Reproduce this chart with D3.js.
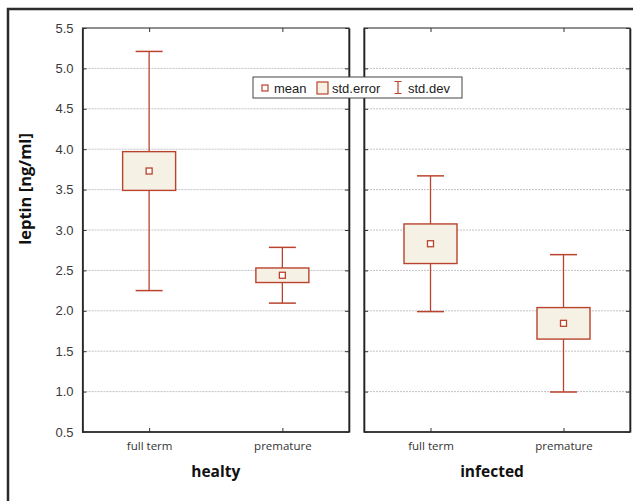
<!DOCTYPE html>
<html>
<head>
<meta charset="utf-8">
<script src="https://cdn.jsdelivr.net/npm/d3@7"></script>
<style>
  body { margin: 0; background: #fff; }
  svg { display: block; }
</style>
</head>
<body>
<div id="content"></div>
<script>
// data
let groups = ['healty', 'infected'];
let categories = ['full term', 'premature'];
let means = [[3.73, 2.44], [2.83, 1.845]];
let stdErrors = [[0.24, 0.09], [0.245, 0.195]];
let stdDevs = [[1.48, 0.345], [0.84, 0.85]];
let yTicks = [0.5, 1.0, 1.5, 2.0, 2.5, 3.0, 3.5, 4.0, 4.5, 5.0, 5.5];
let legendItems = ['mean', 'std.error', 'std.dev'];

let width = 633;
let height = 501;
let plotTop = 28, plotBottom = 432;
let panels = [[82.5, 349], [364, 630]];
let red = '#b9432c';
let fill = '#f6f1e5';

let svg = d3.select('#content').append('svg').attr('width', width).attr('height', height);

// outer frame (cropped on right and bottom)
svg.append('path').attr('d', 'M8,520 L8,9 L640,9')
  .attr('fill', 'none').attr('stroke', '#2b2b2b').attr('stroke-width', 2.5);

let yScale = d3.scaleLinear().domain([0.5, 5.5]).range([plotBottom, plotTop]);

groups.forEach((g, gi) => {
  let [x0, x1] = panels[gi];
  let xScale = d3.scalePoint().domain(categories).range([x0, x1]).padding(0.5);
  let panel = svg.append('g');

  // grid
  panel.selectAll('line.grid').data(yTicks.slice(1, -1)).enter().append('line')
    .attr('x1', x0).attr('x2', x1)
    .attr('y1', d => yScale(d)).attr('y2', d => yScale(d))
    .attr('stroke', '#c2c2cc').attr('stroke-width', 1).attr('stroke-dasharray', '2,1');

  // frame
  panel.append('rect').attr('x', x0).attr('y', plotTop).attr('width', x1 - x0).attr('height', plotBottom - plotTop)
    .attr('fill', 'none').attr('stroke', '#444').attr('stroke-width', 1.2);
  panel.append('line').attr('x1', x0).attr('x2', x1).attr('y1', plotBottom).attr('y2', plotBottom)
    .attr('stroke', '#222').attr('stroke-width', 1.6);

  // inward ticks on both sides
  let leftAxis = d3.axisLeft(yScale).tickValues(yTicks).tickSize(-4).tickSizeOuter(0)
    .tickPadding(9).tickFormat(d3.format('.1f'));
  let la = panel.append('g').attr('transform', `translate(${x0},0)`).call(leftAxis);
  la.select('.domain').attr('stroke', '#222').attr('stroke-width', 1.6);
  la.selectAll('.tick line').attr('stroke', '#333');
  if (gi === 0) {
    la.selectAll('.tick text').attr('font-family', 'Liberation Sans, Arial, sans-serif')
      .attr('font-size', 13).attr('fill', '#3a3a3a');
  } else {
    la.selectAll('.tick text').remove();
  }
  let ra = panel.append('g').attr('transform', `translate(${x1},0)`)
    .call(d3.axisRight(yScale).tickValues(yTicks).tickSize(-4).tickSizeOuter(0).tickFormat(''));
  ra.select('.domain').attr('stroke', '#222').attr('stroke-width', 1.6);
  ra.selectAll('.tick line').attr('stroke', '#333');

  // category ticks top and bottom
  panel.append('g').attr('transform', `translate(0,${plotTop})`)
    .call(d3.axisTop(xScale).tickSize(-4).tickSizeOuter(0).tickFormat(''))
    .call(a => a.select('.domain').remove())
    .selectAll('.tick line').attr('stroke', '#333');
  let ba = panel.append('g').attr('transform', `translate(0,${plotBottom})`)
    .call(d3.axisBottom(xScale).tickSize(-4).tickSizeOuter(0).tickPadding(10));
  ba.select('.domain').remove();
  ba.selectAll('.tick line').attr('stroke', '#333');
  ba.selectAll('.tick text').attr('font-family', 'Open Sans, sans-serif')
    .attr('font-size', 11.5).attr('fill', '#333');

  // group title
  svg.append('text').text(g).attr('x', (x0 + x1) / 2 - (gi === 1 ? 5 : 0)).attr('y', 477)
    .attr('text-anchor', 'middle').attr('font-family', 'Open Sans, sans-serif')
    .attr('font-weight', 'bold').attr('font-size', 15.5).attr('fill', '#111');

  // boxes
  categories.forEach((c, ci) => {
    let cx = xScale(c);
    let m = means[gi][ci], se = stdErrors[gi][ci], sd = stdDevs[gi][ci];
    let b = panel.append('g');
    b.append('line').attr('x1', cx).attr('x2', cx)
      .attr('y1', yScale(m + sd)).attr('y2', yScale(m - sd))
      .attr('stroke', red).attr('stroke-width', 1.3);
    [m + sd, m - sd].forEach(v => {
      b.append('line').attr('x1', cx - 13.5).attr('x2', cx + 13.5)
        .attr('y1', yScale(v)).attr('y2', yScale(v))
        .attr('stroke', red).attr('stroke-width', 1.5);
    });
    b.append('rect').attr('x', cx - 26.5).attr('width', 53)
      .attr('y', yScale(m + se)).attr('height', yScale(m - se) - yScale(m + se))
      .attr('fill', fill).attr('stroke', red).attr('stroke-width', 1.4);
    b.append('rect').attr('x', cx - 3).attr('y', yScale(m) - 3).attr('width', 6).attr('height', 6)
      .attr('fill', '#fff').attr('stroke', red).attr('stroke-width', 1.3);
  });
});

// y axis title
svg.append('text').text('leptin [ng/ml]')
  .attr('transform', 'translate(31,189) rotate(-90)')
  .attr('text-anchor', 'middle').attr('font-family', 'Open Sans, sans-serif')
  .attr('font-weight', 'bold').attr('font-size', 16.5).attr('fill', '#111');

// legend
let legend = svg.append('g').attr('transform', 'translate(253,77)');
legend.append('rect').attr('width', 209).attr('height', 21)
  .attr('fill', '#fff').attr('stroke', '#444').attr('stroke-width', 1);
let lf = 'Liberation Sans, Arial, sans-serif';
legend.append('rect').attr('x', 9).attr('y', 8).attr('width', 6).attr('height', 6)
  .attr('fill', '#fff').attr('stroke', red).attr('stroke-width', 1.2);
legend.append('rect').attr('x', 64).attr('y', 5).attr('width', 11).attr('height', 12)
  .attr('fill', fill).attr('stroke', red).attr('stroke-width', 1.2);
let sx = 145;
legend.append('path').attr('d', `M${sx - 3.5},4.5 H${sx + 3.5} M${sx},4.5 V16.5 M${sx - 3.5},16.5 H${sx + 3.5}`)
  .attr('fill', 'none').attr('stroke', red).attr('stroke-width', 1.2);
legend.selectAll('text').data(legendItems).enter().append('text')
  .text(d => d).attr('x', (d, i) => [21, 79, 155][i]).attr('y', 15.5)
  .attr('font-family', lf).attr('font-size', 13).attr('fill', '#222');
</script>
</body>
</html>
